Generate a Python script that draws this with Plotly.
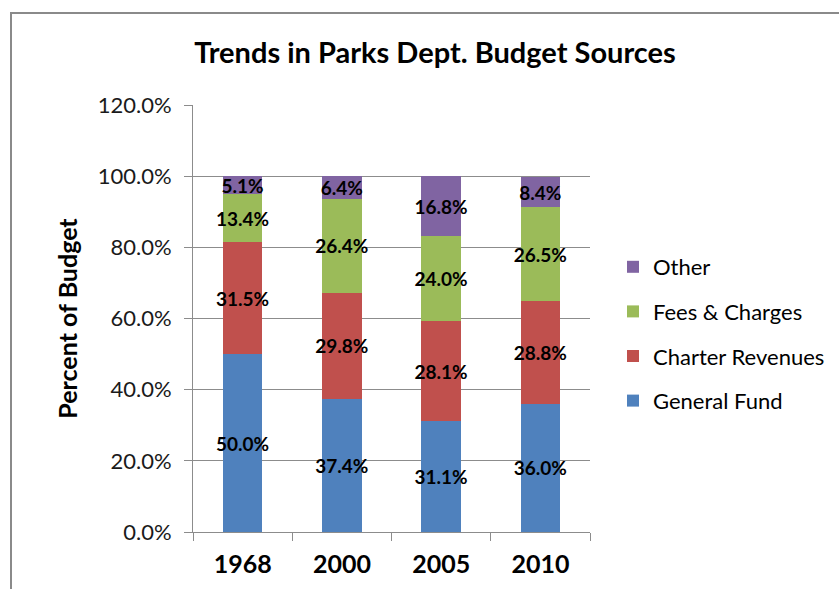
import plotly.graph_objects as go

years = ["1968", "2000", "2005", "2010"]
general_fund = [50.0, 37.4, 31.1, 36.0]
charter_revenues = [31.5, 29.8, 28.1, 28.8]
fees_charges = [13.4, 26.4, 24.0, 26.5]
other = [5.1, 6.4, 16.8, 8.4]

series = [
    ("General Fund", general_fund, "#4F81BD"),
    ("Charter Revenues", charter_revenues, "#C0504D"),
    ("Fees & Charges", fees_charges, "#9BBB59"),
    ("Other", other, "#8064A2"),
]

FONT = "Lato"
fig = go.Figure()
for i, (name, vals, color) in enumerate(series):
    fig.add_trace(go.Bar(
        x=years, y=[v / 100 for v in vals], name=name,
        marker=dict(color=color, line=dict(width=0)),
        texttemplate="%{y:.1%}", textposition="inside",
        insidetextanchor="middle", textangle=0,
        textfont=dict(family=FONT, size=19, color="black", weight="bold"),
        legendgroup=name, legendrank=10 - i,
    ))

fig.update_layout(
    barmode="stack", bargap=0.6,
    width=839, height=589,
    margin=dict(l=193, r=249, t=105, b=57, autoexpand=False),
    paper_bgcolor="white", plot_bgcolor="white",
    font=dict(family=FONT, color="black"),
    title=dict(text="<b>Trends in Parks Dept. Budget Sources</b>", x=435 / 839, xanchor="center",
               y=1 - 53 / 589, yanchor="middle", font=dict(size=29, family=FONT)),
    uniformtext=dict(minsize=19, mode="show"),
    legend=dict(xref="container", yref="container", x=613 / 839, xanchor="left",
                y=1 - 246 / 589, yanchor="top",
                traceorder="grouped", tracegroupgap=13, font=dict(size=22, family=FONT)),
    showlegend=True,
)
fig.update_yaxes(range=[0, 1.2], dtick=0.2, tickformat=".1%", showgrid=True, gridcolor="#8c8c8c",
                 gridwidth=1, showline=True, linecolor="#8c8c8c", linewidth=1, ticks="outside",
                 ticklen=8, tickcolor="#8c8c8c", ticklabelstandoff=8,
                 tickfont=dict(size=22, family=FONT, color="#1a1a1a"),
                 title=dict(text="<b>Percent of Budget</b>", font=dict(size=25, family=FONT), standoff=12),
                 zeroline=False)
fig.update_xaxes(showline=True, linecolor="#8c8c8c", linewidth=1, ticks="outside", ticklen=8,
                 tickcolor="#8c8c8c", tickson="boundaries", ticklabelstandoff=10,
                 tickfont=dict(size=25, family=FONT, color="black", weight="bold"))

# outer chart frame (partly cut off at right and bottom in the reference)
fig.add_shape(type="rect", xref="paper", yref="paper",
              x0=(11 - 193) / 397, x1=(860 - 193) / 397,
              y0=(57 - 620) / 427, y1=1 + (105 - 13) / 427,
              line=dict(color="#8a8a8a", width=2), fillcolor="rgba(0,0,0,0)", layer="below")

fig.write_html("out.html")
